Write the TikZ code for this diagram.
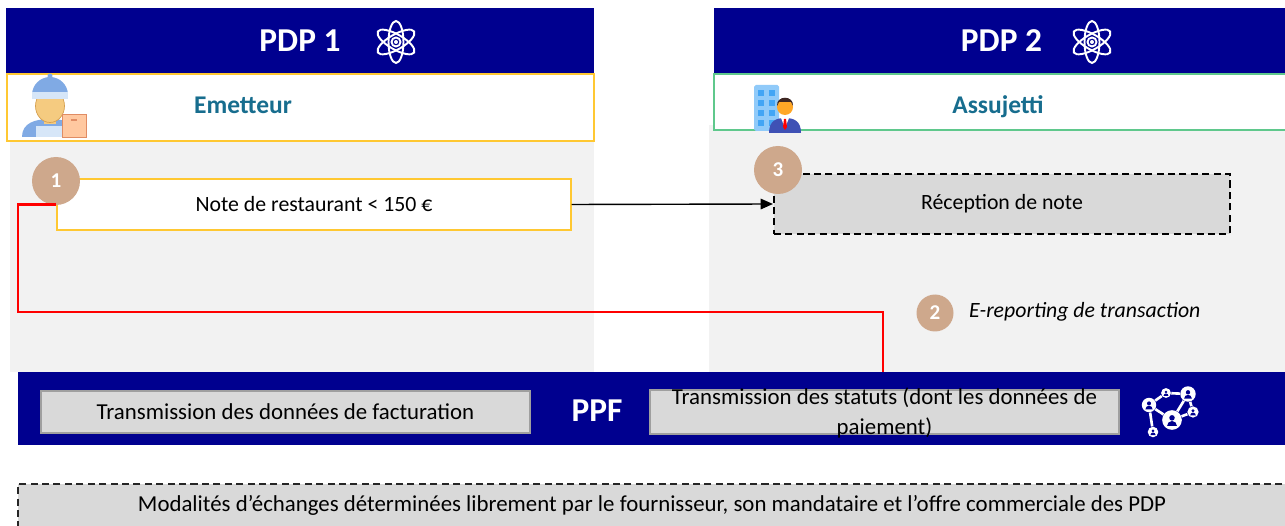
\documentclass[tikz,border=0pt]{standalone}
\usepackage{fontspec}
\setmainfont{Carlito}
\usetikzlibrary{arrows.meta}

\definecolor{pdpblue}{RGB}{0,0,143}
\definecolor{panelgrey}{RGB}{242,242,242}
\definecolor{boxgrey}{RGB}{217,217,217}
\definecolor{stepbrown}{RGB}{206,168,140}
\definecolor{roleblue}{RGB}{23,109,142}
\definecolor{gold}{RGB}{255,200,50}
\definecolor{rolegreen}{RGB}{95,200,140}
\definecolor{capblue}{RGB}{128,170,228}
\definecolor{capband}{RGB}{214,230,248}
\definecolor{skin}{RGB}{245,203,128}
\definecolor{skinedge}{RGB}{214,160,80}
\definecolor{boxpeach}{RGB}{255,200,160}
\definecolor{boxedge}{RGB}{224,140,100}
\definecolor{bldg}{RGB}{144,202,249}
\definecolor{window}{RGB}{66,165,245}
\definecolor{suit}{RGB}{63,81,181}
\definecolor{faceorange}{RGB}{255,167,38}
\definecolor{hair}{RGB}{62,39,35}

\tikzset{
	boxsize/.style 2 args={minimum width=#1*0.02cm, minimum height=#2*0.02cm},
	panel/.style={rectangle, fill=panelgrey, inner sep=0pt},
	pdpbar/.style={rectangle, fill=pdpblue, inner sep=0pt, text=white, font=\fontsize{19}{22}\selectfont\bfseries},
	role/.style={rectangle, fill=white, draw=#1, line width=0.8pt, inner sep=0pt},
	roletext/.style={text=roleblue, font=\fontsize{14.5}{17}\selectfont\bfseries},
	notebox/.style={rectangle, fill=white, draw=gold, line width=0.8pt, inner sep=0pt, font=\fontsize{12.4}{14}\selectfont},
	recvbox/.style={rectangle, fill=boxgrey, draw=black, line width=1.2pt, dash pattern=on 4pt off 2.5pt, inner sep=0pt, font=\fontsize{12.4}{14}\selectfont},
	ppfbox/.style={rectangle, fill=boxgrey, draw=gray!75, line width=0.8pt, inner sep=0pt},
	txt/.style={font=\fontsize{13}{15}\selectfont},
	stepnum/.style={circle, fill=stepbrown, text=white, minimum size=#1, inner sep=0pt, font=\fontsize{12}{14}\selectfont\bfseries},
	redline/.style={red, line width=1.2pt},
	atom/.pic={
		\foreach \a in {90,30,-30}
			\draw[white, line width=1.1pt, rotate=\a] (0,0) ellipse [x radius=0.42cm, y radius=0.15cm];
		\draw[white, line width=1.1pt] (0,0) circle [radius=0.09cm];
		\fill[white] (0,0) circle [radius=0.04cm];
	}
}

\begin{document}
\begin{tikzpicture}[x=0.02cm, y=-0.02cm]
	\useasboundingbox (0,0) rectangle (1285,526);

	\node[panel, boxsize={584}{231}] (left) at (302,256.5) {};
	\node[panel, boxsize={580}{247}] (right) at (999,248.5) {};

	\node[pdpbar, boxsize={588}{66}] (pdp1) at (300,41) {PDP 1};
	\node[pdpbar, boxsize={575}{66}] (pdp2) at (1001.5,41) {PDP 2};
	\pic at (396,42) {atom};
	\pic at (1092,42) {atom};

	\node[role=gold, boxsize={587}{67}] (emetteur) at (300.5,107.5) {};
	\node[role=rolegreen, boxsize={575}{56}] (assujetti) at (1001.5,102) {};
	\node[roletext] (emetteurtext) at (243,105) {Emetteur};
	\node[roletext] (assujettitext) at (998,107) {Assujetti};

	\fill[capblue] (22,137) .. controls (22,123) and (35,119) .. (50,119) .. controls (65,119) and (76,123) .. (76,137) -- cycle;
	\fill[capband] (36,137) -- (36,126) -- (64,126) -- (64,137) -- cycle;
	\fill[skin] (44,115) rectangle (56,124);
	\draw[skinedge, fill=skin, line width=0.4pt] (50,106) ellipse [x radius=0.29cm, y radius=0.33cm];
	\fill[capblue] (32,95) arc [start angle=180, end angle=0, radius=0.36cm] -- cycle;
	\fill[capband] (32,92) rectangle (68,99);
	\fill[capblue] (50,76) circle [radius=0.05cm];
	\draw[boxedge, fill=boxpeach, line width=0.5pt] (62,114) rectangle (86,137);
	\draw[boxedge, line width=1pt] (71,120) -- (77,120);

	\fill[bldg, rounded corners=1pt] (754,85) rectangle (779,131);
	\foreach \c in {758,769}
		\foreach \r in {90,100,110,120}
			\fill[window] (\c,\r) rectangle ++(6,6);
	\fill[suit] (769,133) .. controls (769,121) and (776,118) .. (785,118) .. controls (794,118) and (801,121) .. (801,133) -- cycle;
	\fill[white] (781,118) -- (789,118) -- (785,128) -- cycle;
	\fill[red] (784,119) -- (786,119) -- (787,127) -- (785,130) -- (783,127) -- cycle;
	\fill[faceorange] (785,107) circle [radius=0.16cm];
	\fill[hair] (777,106) .. controls (776,95) and (794,95) .. (793,106) -- (791,102) -- (779,102) -- cycle;

	\node[notebox, boxsize={514}{51}] (note) at (314,204.5) {Note de restaurant < 150 €};
	\node[stepnum=0.96cm] (step1) at (56,181) {1};

	\node[recvbox, boxsize={456}{60}] (recv) at (1002,204) {Réception de note};
	\node[stepnum=0.96cm] (step3) at (778,170) {3};

	\node[stepnum=0.74cm] (step2) at (935,313) {2};
	\node[anchor=west, font=\fontsize{12.4}{14}\selectfont\itshape] (ereport) at (963,312) {E-reporting de transaction};

	\node[rectangle, fill=pdpblue, inner sep=0pt, boxsize={1280}{73}] (ppf) at (658,408.5) {};
	\node[text=white, font=\fontsize{19}{22}\selectfont\bfseries] (ppftext) at (597,411) {PPF};
	\node[ppfbox, boxsize={489}{42}] (facturation) at (285.5,412) {};
	\node[txt] (facturationtext) at (285.5,412) {Transmission des données de facturation};
	\node[ppfbox, boxsize={469}{44}] (statuts) at (884.5,412) {};
	\node[txt, align=center, font=\fontsize{13}{17}\selectfont] (statutstext) at (884.5,413) {Transmission des statuts (dont les données de\\paiement)};

	\foreach \n/\p/\r in {n1/{(1166,393)}/2.8pt, n2/{(1188,394)}/4.4pt, n3/{(1149,405)}/4.1pt, n4/{(1193,412)}/3.2pt, n5/{(1172,420)}/5.6pt, n6/{(1153,432)}/3pt}
		\node[circle, fill=white, minimum size=2*\r, inner sep=0pt] (\n) at \p {};
	\draw[white, line width=1.5pt] (n1) -- (n2) (n1) -- (n3) (n2) -- (n4) (n2) -- (n5) (n3) -- (n5) (n3) -- (n6) (n4) -- (n5);
	\foreach \n/\r in {n1/2.8pt, n2/4.4pt, n3/4.1pt, n4/3.2pt, n5/5.6pt, n6/3pt} {
		\fill[pdpblue] ([yshift=0.22*\r]\n.center) circle [radius=0.28*\r];
		\fill[pdpblue] ([xshift=-0.5*\r, yshift=-0.6*\r]\n.center) arc [start angle=180, end angle=0, radius=0.5*\r] -- cycle;
	}

	\node[rectangle, fill=boxgrey, draw=black!85, line width=0.8pt, dash pattern=on 4pt off 2.5pt, inner sep=0pt, boxsize={1280}{52}] (modalites) at (658,510) {};
	\node[txt] (modalitestext) at (652,505) {Modalités d’échanges déterminées librement par le fournisseur, son mandataire et l’offre commerciale des PDP};

	\draw[-{Triangle[length=7pt, width=6pt]}, line width=0.8pt] (note.east) -- (recv.west);

	\coordinate (bendL) at (18,312);
	\coordinate (bendR) at (883,312);
	\draw[redline] (note.west) -| (bendL) -- (bendR) -- (bendR |- ppf.north);
\end{tikzpicture}
\end{document}
